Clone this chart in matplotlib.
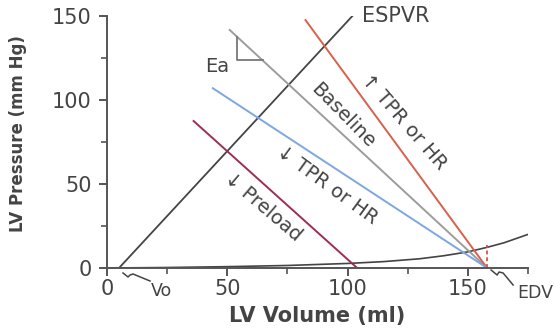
import matplotlib.pyplot as plt
from matplotlib.ticker import MultipleLocator

plt.rcParams['font.family'] = ['DejaVu Sans']

# ESPVR line (end-systolic pressure-volume relation)
espvr_v = [5, 102]
espvr_p = [0, 150]

# EDPVR curve (end-diastolic filling curve)
edpvr_v = [0, 25, 50, 75, 100, 115, 130, 140, 150, 158, 165, 175]
edpvr_p = [0, 0.3, 0.8, 1.5, 2.7, 3.8, 5.5, 7.3, 9.6, 12.3, 15.0, 20.0]

# Ea lines: (start volume, start pressure) -> (end volume, 0)
ea_names = ["baseline", "tpr_up", "tpr_down", "preload"]
ea_v0 = [51, 82.5, 44, 36]
ea_p0 = [141.7, 147.6, 107, 87.5]
ea_v1 = [158, 158, 158, 104]
ea_colors = ["#9c9c9c", "#d9604a", "#7da6e3", "#9e2d52"]

edv = 158
vo = 5

ink = "#444444"

fig = plt.figure(figsize=(5.54, 3.34), dpi=100)
ax = fig.add_axes([107 / 554, 66 / 334, 421 / 554, 252 / 334])

ax.plot(espvr_v, espvr_p, color=ink, lw=1.3)
ax.plot(edpvr_v, edpvr_p, color=ink, lw=1.2)
for v0, p0, v1, c in zip(ea_v0, ea_p0, ea_v1, ea_colors):
    ax.plot([v0, v1], [p0, 0], color=c, lw=1.4)

# dashed red at EDV
ax.plot([edv, edv], [0, 13.7], color="#d9604a", lw=1.4, ls=(0, (2, 1.5)))

# Ea triangle on baseline
ax.plot([54.2, 54.2, 65], [137.5, 123.8, 123.8], color="#777777", lw=1.3)

ax.set_xlim(0, 175)
ax.set_ylim(0, 150)
for s in ["top", "right"]:
    ax.spines[s].set_visible(False)
for s in ["left", "bottom"]:
    ax.spines[s].set_color("#555555")
    ax.spines[s].set_linewidth(1.4)

ax.xaxis.set_major_locator(MultipleLocator(50))
ax.xaxis.set_minor_locator(MultipleLocator(25))
ax.yaxis.set_major_locator(MultipleLocator(50))
ax.yaxis.set_minor_locator(MultipleLocator(25))
ax.tick_params(which="major", length=6, width=1.4, color="#555555",
               labelsize=15, labelcolor=ink, pad=2)
ax.tick_params(axis="y", which="major", pad=5)
ax.tick_params(which="minor", length=4, width=1.2, color="#555555")

ax.set_xlabel("LV Volume (ml)", fontsize=15, color=ink, fontweight="bold", labelpad=5)
ax.set_ylabel("LV Pressure (mm Hg)", fontsize=12, color=ink, fontweight="bold")
ax.yaxis.set_label_coords(-0.19, 0.535)

txt = dict(color=ink, fontsize=14, ha="center", va="center", rotation_mode="anchor")
ax.text(105.8, 150, "ESPVR", color=ink, fontsize=15, ha="left", va="center")
ax.text(45.8, 120, "Ea", **txt)
ax.text(97.9, 90.5, "Baseline", rotation=-45.5, **txt)
ax.text(123.5, 87, "↑ TPR or HR", rotation=-49, **txt)
ax.text(91.5, 49.5, "↓ TPR or HR", rotation=-36, **txt)
ax.text(64.6, 36.3, "↓ Preload", rotation=-40.5, **txt)

# squiggle pointers for Vo and EDV (pixel offsets from the axis point)
squiggles = [(vo, [4, 9, 11, 14, 31], [-5, -9, -7, -6, -13]),
             (edv, [4, 10, 12, 16, 26], [-2, -7, -4, -5, -17])]
for anchor, dx, dy in squiggles:
    x0, y0 = ax.transData.transform((anchor, 0))
    ax.plot([x0 + d for d in dx], [y0 + d for d in dy], color=ink, lw=1.1,
            transform=None, clip_on=False)

ax.text(22.5, -13.7, "Vo", fontsize=12.5, color=ink, ha="center", va="center", clip_on=False)
ax.text(170.5, -15, "EDV", fontsize=12.5, color=ink, ha="left", va="center", clip_on=False)

fig.savefig("out.png", dpi=100)
